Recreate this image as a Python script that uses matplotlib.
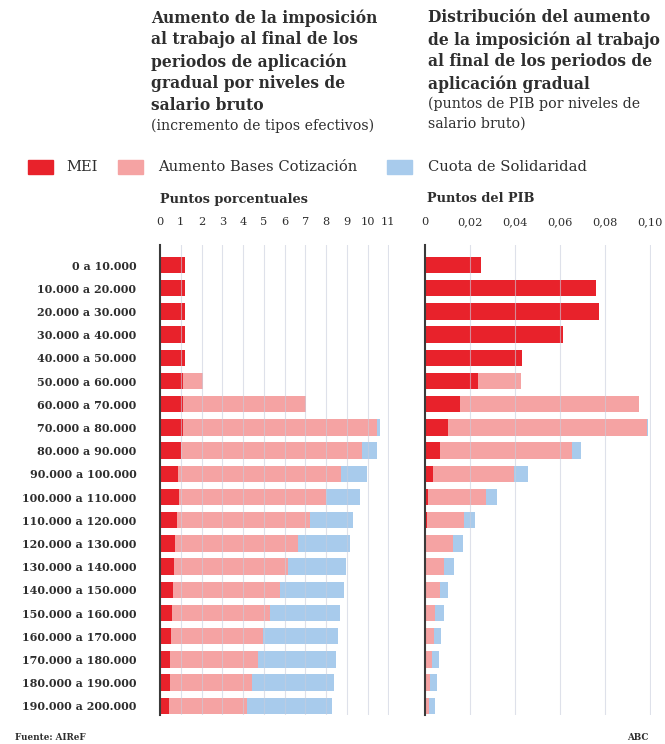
import matplotlib
matplotlib.use("Agg")
import matplotlib.pyplot as plt
import matplotlib.patches as mpatches
import numpy as np

categories = ["0 a 10.000", "10.000 a 20.000", "20.000 a 30.000", "30.000 a 40.000",
              "40.000 a 50.000", "50.000 a 60.000", "60.000 a 70.000", "70.000 a 80.000",
              "80.000 a 90.000", "90.000 a 100.000", "100.000 a 110.000", "110.000 a 120.000",
              "120.000 a 130.000", "130.000 a 140.000", "140.000 a 150.000", "150.000 a 160.000",
              "160.000 a 170.000", "170.000 a 180.000", "180.000 a 190.000", "190.000 a 200.000"]

# Left panel: puntos porcentuales
mei_pp = [1.2, 1.2, 1.2, 1.2, 1.2, 1.12, 1.12, 1.1, 1.0, 0.85,
          0.9, 0.82, 0.74, 0.67, 0.64, 0.59, 0.54, 0.48, 0.46, 0.42]
bases_pp = [0, 0, 0, 0, 0, 0.97, 5.9, 9.34, 8.71, 7.87,
            7.1, 6.4, 5.9, 5.49, 5.12, 4.71, 4.42, 4.22, 3.99, 3.77]
solid_pp = [0, 0, 0, 0, 0, 0, 0, 0.16, 0.73, 1.24,
            1.65, 2.09, 2.5, 2.82, 3.09, 3.36, 3.62, 3.78, 3.95, 4.1]

# Right panel: puntos del PIB
mei_pib = [0.0247, 0.0759, 0.0772, 0.0615, 0.043, 0.0237, 0.0156, 0.0104, 0.0067, 0.0034,
           0.0015, 0.0011, 0.0006, 0.0004, 0.0004, 0.0003, 0.0003, 0.0003, 0.0003, 0.0003]
bases_pib = [0, 0, 0, 0, 0, 0.019, 0.0795, 0.0881, 0.0588, 0.0363,
             0.0257, 0.0164, 0.0117, 0.0082, 0.0061, 0.0042, 0.0036, 0.0027, 0.0021, 0.0016]
solid_pib = [0, 0, 0, 0, 0, 0, 0, 0.0005, 0.0038, 0.0059,
             0.0048, 0.0048, 0.0045, 0.0044, 0.0039, 0.0038, 0.0032, 0.003, 0.0028, 0.0026]

left_ticks = list(range(0, 12))
left_ticklabels = [str(t) for t in left_ticks]
right_ticks = [0, 0.02, 0.04, 0.06, 0.08, 0.10]
right_ticklabels = ["0", "0,02", "0,04", "0,06", "0,08", "0,10"]

C_MEI = "#e8222b"
C_BASES = "#f5a3a3"
C_SOLID = "#a8cbec"
TXT = "#2e2e2e"
GRID = "#c9cedd"

W, H = 665, 744
fig = plt.figure(figsize=(W / 100, H / 100), dpi=100)
fig.patch.set_facecolor("white")

def fx(px):
    return px / W

def fy(py):
    return 1 - py / H

SERIF = ["DejaVu Serif"]

top_px, bot_px = 245, 715
row0, step = 265, 23.2
ylo = (top_px - row0) / step
yhi = (bot_px - row0) / step

def make_axes(x0_px, x1_px, xmax, mei, bases, solid, ticks, ticklabels, show_labels):
    ax = fig.add_axes([fx(x0_px), fy(bot_px), fx(x1_px - x0_px), (bot_px - top_px) / H])
    y = np.arange(len(categories))
    m = np.array(mei); b = np.array(bases); s = np.array(solid)
    ax.barh(y, m, height=0.7, color=C_MEI, zorder=2)
    ax.barh(y, b, left=m, height=0.7, color=C_BASES, zorder=2)
    ax.barh(y, s, left=m + b, height=0.7, color=C_SOLID, zorder=2)
    ax.set_xlim(0, xmax)
    ax.set_ylim(yhi, ylo)
    for t in ticks:
        if t > 0:
            ax.axvline(t, color=GRID, lw=0.8, alpha=0.6, zorder=3)
    for sp in ["top", "right", "bottom"]:
        ax.spines[sp].set_visible(False)
    ax.spines["left"].set_color("#3a3a3a")
    ax.spines["left"].set_linewidth(1.5)
    ax.spines["left"].set_zorder(4)
    ax.set_xticks(ticks)
    ax.set_xticklabels(ticklabels, family=SERIF, fontsize=8.2, color=TXT)
    ax.xaxis.tick_top()
    ax.tick_params(axis="x", length=0, pad=13)
    ax.set_yticks(y)
    if show_labels:
        ax.set_yticklabels(categories, family=SERIF, fontsize=8.0, fontweight="bold", color=TXT)
        ax.tick_params(axis="y", length=0, pad=17)
    else:
        ax.set_yticklabels([])
        ax.tick_params(axis="y", length=0)
    return ax

axL = make_axes(160, 160 + 11.05 * 20.76, 11.05, mei_pp, bases_pp, solid_pp,
                left_ticks, left_ticklabels, True)
axR = make_axes(425, 425 + 0.1005 * 2250, 0.1005, mei_pib, bases_pib, solid_pib,
                right_ticks, right_ticklabels, False)

# Titles
title_kw = dict(family=SERIF, fontsize=11.2, fontweight="bold", color=TXT, va="center", ha="left")
sub_kw = dict(family=SERIF, fontsize=10.2, color=TXT, va="center", ha="left")
left_title = ["Aumento de la imposición", "al trabajo al final de los",
              "periodos de aplicación", "gradual por niveles de", "salario bruto"]
for i, line in enumerate(left_title):
    fig.text(fx(151), fy(18 + 22 * i), line, **title_kw)
fig.text(fx(151), fy(126), "(incremento de tipos efectivos)", **sub_kw)

right_title = ["Distribución del aumento", "de la imposición al trabajo",
               "al final de los periodos de", "aplicación gradual"]
for i, line in enumerate(right_title):
    fig.text(fx(428), fy(18 + 22 * i), line, **title_kw)
fig.text(fx(428), fy(104), "(puntos de PIB por niveles de", **sub_kw)
fig.text(fx(428), fy(124), "salario bruto)", **sub_kw)

# Legend
leg_items = [(28, 66, C_MEI, "MEI"), (118, 158, C_BASES, "Aumento Bases Cotización"),
             (387, 428, C_SOLID, "Cuota de Solidaridad")]
for px0, tx, col, lab in leg_items:
    fig.patches.append(mpatches.Rectangle((fx(px0), fy(174)), fx(25), 14 / H,
                                          transform=fig.transFigure, color=col))
    fig.text(fx(tx), fy(167), lab, family=SERIF, fontsize=10.6, color=TXT, va="center", ha="left")

# Axis subtitles
fig.text(fx(160), fy(199), "Puntos porcentuales", family=SERIF, fontsize=9.3, fontweight="bold",
         color=TXT, va="center", ha="left")
fig.text(fx(427), fy(199), "Puntos del PIB", family=SERIF, fontsize=9.3, fontweight="bold",
         color=TXT, va="center", ha="left")

# Footer
fig.text(fx(15), fy(737), "Fuente: AIReF", family=SERIF, fontsize=6.3, fontweight="bold",
         color=TXT, va="center", ha="left")
fig.text(fx(648), fy(737), "ABC", family=SERIF, fontsize=6.3, fontweight="bold",
         color=TXT, va="center", ha="right")

fig.savefig("out.png", dpi=100, facecolor="white")
